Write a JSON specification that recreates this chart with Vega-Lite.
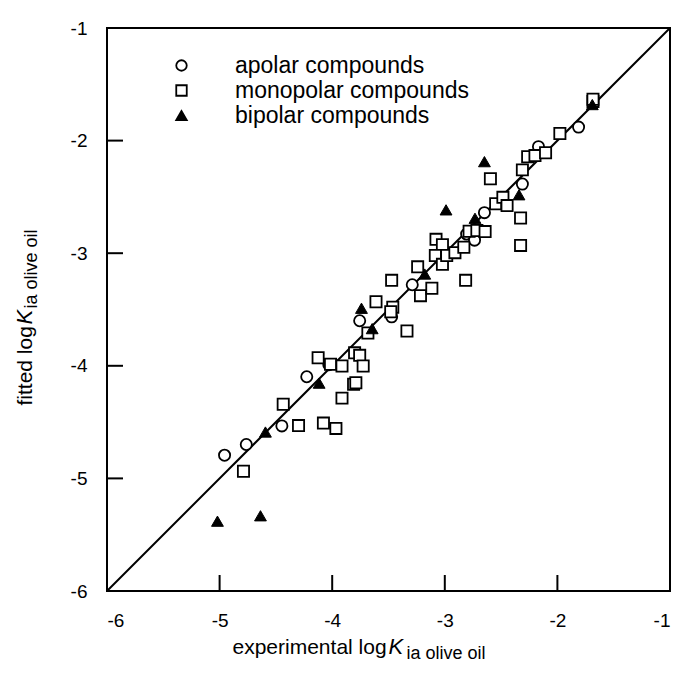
{
  "$schema": "https://vega.github.io/schema/vega-lite/v6.json",
  "width": 563,
  "height": 563,
  "autosize": "none",
  "padding": {"left": 107, "top": 28, "right": 6, "bottom": 97},
  "background": "white",
  "config": {
    "view": {"stroke": "black", "strokeWidth": 2},
    "font": "Liberation Sans",
    "axis": {
      "grid": false,
      "domain": false,
      "labelFont": "Liberation Sans",
      "labelFontSize": 19,
      "labelColor": "black",
      "titleFont": "Liberation Sans",
      "titleFontSize": 21,
      "titleFontWeight": "normal",
      "titleColor": "black",
      "titleAlign": "left",
      "titleBaseline": "alphabetic",
      "titleAnchor": null
    }
  },
  "resolve": {"axis": {"x": "independent", "y": "independent"}},
  "datasets": {
    "pts": [
      {"x": -4.956, "y": -4.794, "type": "apolar compounds"},
      {"x": -4.763, "y": -4.699, "type": "apolar compounds"},
      {"x": -4.447, "y": -4.534, "type": "apolar compounds"},
      {"x": -4.226, "y": -4.097, "type": "apolar compounds"},
      {"x": -4.03, "y": -3.99, "type": "apolar compounds"},
      {"x": -3.756, "y": -3.6, "type": "apolar compounds"},
      {"x": -3.472, "y": -3.565, "type": "apolar compounds"},
      {"x": -3.289, "y": -3.28, "type": "apolar compounds"},
      {"x": -2.806, "y": -2.83, "type": "apolar compounds"},
      {"x": -2.736, "y": -2.884, "type": "apolar compounds"},
      {"x": -2.648, "y": -2.64, "type": "apolar compounds"},
      {"x": -2.311, "y": -2.386, "type": "apolar compounds"},
      {"x": -2.168, "y": -2.054, "type": "apolar compounds"},
      {"x": -1.812, "y": -1.88, "type": "apolar compounds"},
      {"x": -4.788, "y": -4.936, "type": "monopolar compounds"},
      {"x": -4.435, "y": -4.341, "type": "monopolar compounds"},
      {"x": -4.299, "y": -4.531, "type": "monopolar compounds"},
      {"x": -4.078, "y": -4.509, "type": "monopolar compounds"},
      {"x": -3.967, "y": -4.556, "type": "monopolar compounds"},
      {"x": -4.125, "y": -3.928, "type": "monopolar compounds"},
      {"x": -4.015, "y": -3.986, "type": "monopolar compounds"},
      {"x": -3.913, "y": -4.002, "type": "monopolar compounds"},
      {"x": -3.913, "y": -4.287, "type": "monopolar compounds"},
      {"x": -3.801, "y": -3.885, "type": "monopolar compounds"},
      {"x": -3.756, "y": -3.907, "type": "monopolar compounds"},
      {"x": -3.725, "y": -4.002, "type": "monopolar compounds"},
      {"x": -3.81, "y": -4.164, "type": "monopolar compounds"},
      {"x": -3.79, "y": -4.15, "type": "monopolar compounds"},
      {"x": -3.683, "y": -3.709, "type": "monopolar compounds"},
      {"x": -3.611, "y": -3.431, "type": "monopolar compounds"},
      {"x": -3.472, "y": -3.241, "type": "monopolar compounds"},
      {"x": -3.462, "y": -3.479, "type": "monopolar compounds"},
      {"x": -3.48, "y": -3.52, "type": "monopolar compounds"},
      {"x": -3.336, "y": -3.691, "type": "monopolar compounds"},
      {"x": -3.241, "y": -3.121, "type": "monopolar compounds"},
      {"x": -3.216, "y": -3.377, "type": "monopolar compounds"},
      {"x": -3.115, "y": -3.311, "type": "monopolar compounds"},
      {"x": -3.078, "y": -2.877, "type": "monopolar compounds"},
      {"x": -3.021, "y": -2.925, "type": "monopolar compounds"},
      {"x": -3.084, "y": -3.02, "type": "monopolar compounds"},
      {"x": -3.021, "y": -3.099, "type": "monopolar compounds"},
      {"x": -2.983, "y": -3.02, "type": "monopolar compounds"},
      {"x": -2.91, "y": -2.995, "type": "monopolar compounds"},
      {"x": -2.831, "y": -2.947, "type": "monopolar compounds"},
      {"x": -2.815, "y": -3.241, "type": "monopolar compounds"},
      {"x": -2.784, "y": -2.805, "type": "monopolar compounds"},
      {"x": -2.715, "y": -2.798, "type": "monopolar compounds"},
      {"x": -2.642, "y": -2.808, "type": "monopolar compounds"},
      {"x": -2.595, "y": -2.339, "type": "monopolar compounds"},
      {"x": -2.548, "y": -2.561, "type": "monopolar compounds"},
      {"x": -2.484, "y": -2.504, "type": "monopolar compounds"},
      {"x": -2.447, "y": -2.577, "type": "monopolar compounds"},
      {"x": -2.327, "y": -2.687, "type": "monopolar compounds"},
      {"x": -2.327, "y": -2.931, "type": "monopolar compounds"},
      {"x": -2.311, "y": -2.26, "type": "monopolar compounds"},
      {"x": -2.264, "y": -2.143, "type": "monopolar compounds"},
      {"x": -2.199, "y": -2.133, "type": "monopolar compounds"},
      {"x": -2.105, "y": -2.108, "type": "monopolar compounds"},
      {"x": -1.978, "y": -1.937, "type": "monopolar compounds"},
      {"x": -1.684, "y": -1.652, "type": "monopolar compounds"},
      {"x": -1.684, "y": -1.633, "type": "monopolar compounds"},
      {"x": -5.019, "y": -5.38, "type": "bipolar compounds"},
      {"x": -4.637, "y": -5.332, "type": "bipolar compounds"},
      {"x": -4.593, "y": -4.588, "type": "bipolar compounds"},
      {"x": -4.116, "y": -4.154, "type": "bipolar compounds"},
      {"x": -3.74, "y": -3.489, "type": "bipolar compounds"},
      {"x": -3.645, "y": -3.67, "type": "bipolar compounds"},
      {"x": -3.178, "y": -3.185, "type": "bipolar compounds"},
      {"x": -2.989, "y": -2.615, "type": "bipolar compounds"},
      {"x": -2.732, "y": -2.69, "type": "bipolar compounds"},
      {"x": -2.648, "y": -2.187, "type": "bipolar compounds"},
      {"x": -2.341, "y": -2.481, "type": "bipolar compounds"},
      {"x": -1.69, "y": -1.68, "type": "bipolar compounds"}
    ],
    "diag": [
      {"x": -6, "y": -6},
      {"x": -1, "y": -1}
    ],
    "tickseg": [
      {"t": -5, "e": -6}, {"t": -5, "e": -5.858},
      {"t": -4, "e": -6}, {"t": -4, "e": -5.858},
      {"t": -3, "e": -6}, {"t": -3, "e": -5.858},
      {"t": -2, "e": -6}, {"t": -2, "e": -5.858}
    ]
  },
  "layer": [
    {
      "data": {"name": "diag"},
      "mark": {"type": "line", "color": "black", "strokeWidth": 2},
      "encoding": {
        "x": {
          "field": "x", "type": "quantitative",
          "scale": {"domain": [-6, -1], "nice": false, "zero": false},
          "axis": {"orient": "bottom", "values": [-6, -5, -4, -3, -2, -1], "labelExpr": "'' + datum.value",
                   "ticks": false, "labelPadding": 20,
                   "title": "experimental log", "titleX": 125, "titleY": 62}
        },
        "y": {
          "field": "y", "type": "quantitative",
          "scale": {"domain": [-6, -1], "nice": false, "zero": false},
          "axis": {"orient": "left", "values": [-6, -5, -4, -3, -2, -1], "labelExpr": "'' + datum.value",
                   "ticks": false, "labelPadding": 20,
                   "title": "fitted log", "titleAngle": -90, "titleX": -76, "titleY": 377}
        }
      }
    },
    {
      "data": {"name": "tickseg"},
      "mark": {"type": "line", "color": "black", "strokeWidth": 2},
      "encoding": {
        "x": {"field": "t", "type": "quantitative", "axis": null},
        "y": {"field": "e", "type": "quantitative", "axis": null},
        "detail": {"field": "t", "type": "nominal"}
      }
    },
    {
      "data": {"name": "tickseg"},
      "mark": {"type": "line", "color": "black", "strokeWidth": 2},
      "encoding": {
        "y": {"field": "t", "type": "quantitative", "axis": null},
        "x": {"field": "e", "type": "quantitative", "axis": null},
        "detail": {"field": "t", "type": "nominal"},
        "order": {"field": "e", "type": "quantitative"}
      }
    },
    {
      "data": {"name": "pts"},
      "transform": [{"filter": "datum.type !== 'bipolar compounds'"}],
      "mark": {"type": "point", "stroke": "black", "strokeWidth": 1.8, "opacity": 1, "size": 125},
      "encoding": {
        "x": {
          "field": "x", "type": "quantitative",
          "axis": {"orient": "bottom", "labels": false, "ticks": false,
                   "title": "K", "titleFontStyle": "italic", "titleFontSize": 22, "titleX": 281, "titleY": 62}
        },
        "y": {
          "field": "y", "type": "quantitative",
          "axis": {"orient": "left", "labels": false, "ticks": false,
                   "title": "K", "titleFontStyle": "italic", "titleFontSize": 22, "titleAngle": -90, "titleX": -76, "titleY": 296}
        },
        "shape": {
          "field": "type", "type": "nominal",
          "scale": {"domain": ["apolar compounds", "monopolar compounds", "bipolar compounds"], "range": ["circle", "square", "triangle-up"]},
          "legend": {
            "title": null, "orient": "none", "legendX": 63, "legendY": 26,
            "labelFontSize": 23, "labelFont": "Liberation Sans", "labelColor": "black", "labelLimit": 600,
            "labelOffset": 42, "rowPadding": 1, "symbolStrokeWidth": 1.8, "symbolSize": 110,
            "encode": {"symbols": {"update": {"stroke": {"value": "black"}, "strokeWidth": {"value": 1.8}}}}
          }
        },
        "fill": {
          "field": "type", "type": "nominal",
          "scale": {"domain": ["apolar compounds", "monopolar compounds", "bipolar compounds"], "range": ["white", "white", "black"]},
          "legend": null
        }
      }
    },
    {
      "data": {"name": "pts"},
      "transform": [{"filter": "datum.type === 'bipolar compounds'"}],
      "mark": {"type": "point", "stroke": "black", "strokeWidth": 1, "opacity": 1, "size": 140},
      "encoding": {
        "x": {
          "field": "x", "type": "quantitative",
          "axis": {"orient": "bottom", "labels": false, "ticks": false,
                   "title": "ia olive oil", "titleFontSize": 18, "titleX": 299, "titleY": 67}
        },
        "y": {
          "field": "y", "type": "quantitative",
          "axis": {"orient": "left", "labels": false, "ticks": false,
                   "title": "ia olive oil", "titleFontSize": 18, "titleAngle": -90, "titleX": -71, "titleY": 280}
        },
        "shape": {"field": "type", "type": "nominal"},
        "fill": {"field": "type", "type": "nominal", "legend": null}
      }
    }
  ]
}
